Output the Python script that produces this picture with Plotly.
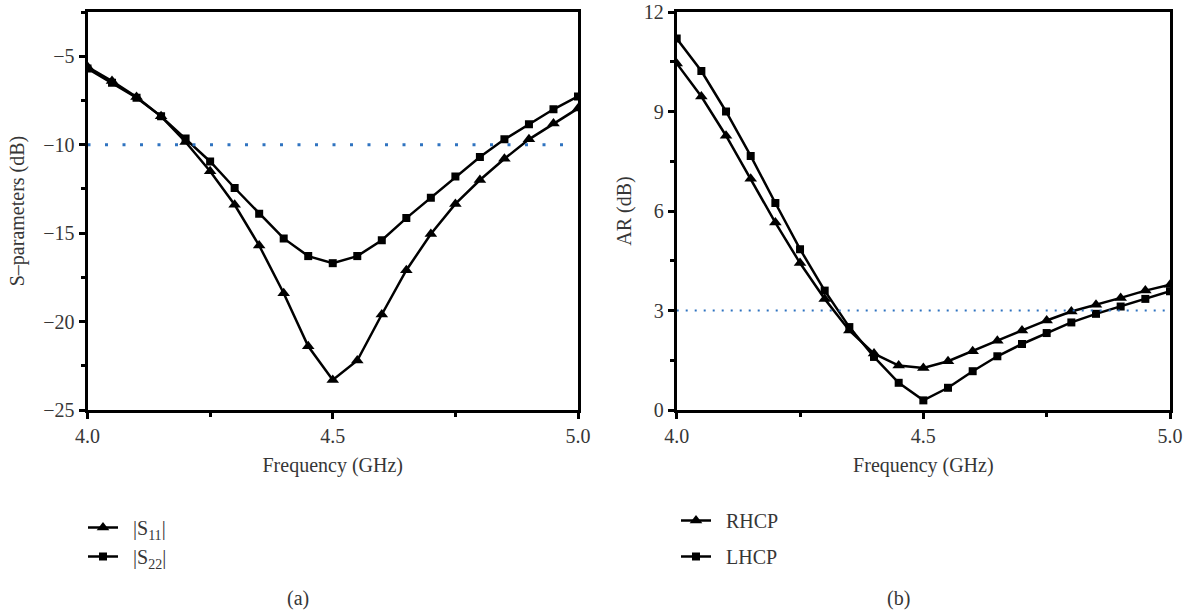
import plotly.graph_objects as go

freq = [4.0, 4.05, 4.1, 4.15, 4.2, 4.25, 4.3, 4.35, 4.4, 4.45, 4.5,
        4.55, 4.6, 4.65, 4.7, 4.75, 4.8, 4.85, 4.9, 4.95, 5.0]
s11 = [-5.6, -6.4, -7.3, -8.4, -9.85, -11.5, -13.4, -15.7, -18.4, -21.4, -23.3,
       -22.2, -19.6, -17.1, -15.05, -13.35, -12.0, -10.8, -9.7, -8.8, -7.95]
s22 = [-5.7, -6.5, -7.35, -8.4, -9.65, -10.95, -12.45, -13.9, -15.3, -16.3, -16.7,
       -16.3, -15.4, -14.15, -13.0, -11.8, -10.7, -9.7, -8.85, -8.0, -7.27]
rhcp = [10.45, 9.45, 8.27, 6.97, 5.65, 4.43, 3.35, 2.4, 1.7, 1.34, 1.27,
        1.47, 1.77, 2.09, 2.4, 2.7, 2.97, 3.17, 3.38, 3.6, 3.78]
lhcp = [11.2, 10.22, 9.0, 7.66, 6.24, 4.85, 3.6, 2.5, 1.6, 0.82, 0.29,
        0.67, 1.17, 1.62, 1.99, 2.32, 2.64, 2.9, 3.12, 3.35, 3.58]
s_threshold = -10
ar_threshold = 3
s_ref_x = [4.0, 4.97]
ar_ref_x = [4.0, 5.0]

FONT = "Liberation Serif"
TXT = "#363636"
BLUE = "#2f73c0"
NB = "\u00a0\u00a0"

fig = go.Figure()

def add_series(x, y, name, symbol, size, xa, ya, legend):
    fig.add_trace(go.Scatter(
        x=x, y=y, name=NB + name, mode="lines+markers", legendgroup=name,
        line=dict(color="black", width=2.5),
        marker=dict(symbol=symbol, size=size, color="black"),
        xaxis=xa, yaxis=ya, legend=legend))

add_series(freq, s11, "|S<sub>11</sub>|", "triangle-up", 11, "x", "y", "legend")
add_series(freq, s22, "|S<sub>22</sub>|", "square", 8, "x", "y", "legend")
add_series(freq, rhcp, "RHCP", "triangle-up", 11, "x2", "y2", "legend2")
add_series(freq, lhcp, "LHCP", "square", 8, "x2", "y2", "legend2")

fig.add_trace(go.Scatter(x=s_ref_x, y=[s_threshold] * 2, mode="lines",
                         line=dict(color=BLUE, width=3, dash="3px,14.5px"),
                         showlegend=False, xaxis="x", yaxis="y", hoverinfo="skip"))
fig.add_trace(go.Scatter(x=ar_ref_x, y=[ar_threshold] * 2, mode="lines",
                         line=dict(color=BLUE, width=1.8, dash="2px,7px"),
                         showlegend=False, xaxis="x2", yaxis="y2", hoverinfo="skip"))

xcommon = dict(range=[4.0, 5.0], dtick=0.5, tick0=4.0, tickformat=".1f",
               showline=True, linecolor="black", linewidth=3, mirror=True,
               ticks="outside", ticklen=6, tickwidth=3, tickcolor="black",
               minor=dict(dtick=0.25, ticks="outside", ticklen=4, tickwidth=3, tickcolor="black"),
               showgrid=False, zeroline=False, automargin=False,
               tickfont=dict(family=FONT, size=20, color=TXT),
               title=dict(text="Frequency (GHz)", font=dict(family=FONT, size=20, color=TXT), standoff=12))
ycommon = dict(showline=True, linecolor="black", linewidth=3, mirror=True,
               ticks="outside", ticklen=6, tickwidth=3, tickcolor="black",
               showgrid=False, zeroline=False, automargin=False,
               tickfont=dict(family=FONT, size=20, color=TXT))

fig.update_layout(
    width=1189, height=614,
    margin=dict(l=0, r=0, t=0, b=0),
    paper_bgcolor="white", plot_bgcolor="white",
    font=dict(family=FONT, color=TXT),
    xaxis=dict(domain=[87.5 / 1189, 578 / 1189], anchor="y", **xcommon),
    yaxis=dict(domain=[1 - 410 / 614, 1 - 12 / 614], anchor="x", range=[-25, -2.5],
               dtick=5, tick0=-25,
               minor=dict(dtick=2.5, ticks="outside", ticklen=4, tickwidth=3, tickcolor="black"),
               title=dict(text="S\u2013parameters (dB)", font=dict(family=FONT, size=20, color=TXT), standoff=14),
               **ycommon),
    xaxis2=dict(domain=[676.7 / 1189, 1170 / 1189], anchor="y2", **xcommon),
    yaxis2=dict(domain=[1 - 410 / 614, 1 - 12 / 614], anchor="x2", range=[0, 12],
                dtick=3, tick0=0,
                minor=dict(dtick=1.5, ticks="outside", ticklen=4, tickwidth=3, tickcolor="black"),
                title=dict(text="AR (dB)", font=dict(family=FONT, size=20, color=TXT), standoff=7),
                **ycommon),
    legend=dict(x=83 / 1189, y=1 - 508 / 614, xanchor="left", yanchor="top",
                font=dict(family=FONT, size=20, color=TXT), bgcolor="rgba(0,0,0,0)",
                traceorder="grouped", tracegroupgap=0, itemwidth=30),
    legend2=dict(x=676 / 1189, y=1 - 501 / 614, xanchor="left", yanchor="top",
                 font=dict(family=FONT, size=20, color=TXT), bgcolor="rgba(0,0,0,0)",
                 traceorder="grouped", tracegroupgap=7, itemwidth=30),
    annotations=[
        dict(text="(a)", x=298 / 1189, y=1 - 598 / 614, xref="paper", yref="paper",
             xanchor="center", yanchor="middle",
             showarrow=False, font=dict(family=FONT, size=20, color=TXT)),
        dict(text="(b)", x=898 / 1189, y=1 - 598 / 614, xref="paper", yref="paper",
             xanchor="center", yanchor="middle",
             showarrow=False, font=dict(family=FONT, size=20, color=TXT)),
    ],
)

fig.write_html("out.html", post_script="document.body.style.margin='0';document.body.style.overflow='hidden';")
